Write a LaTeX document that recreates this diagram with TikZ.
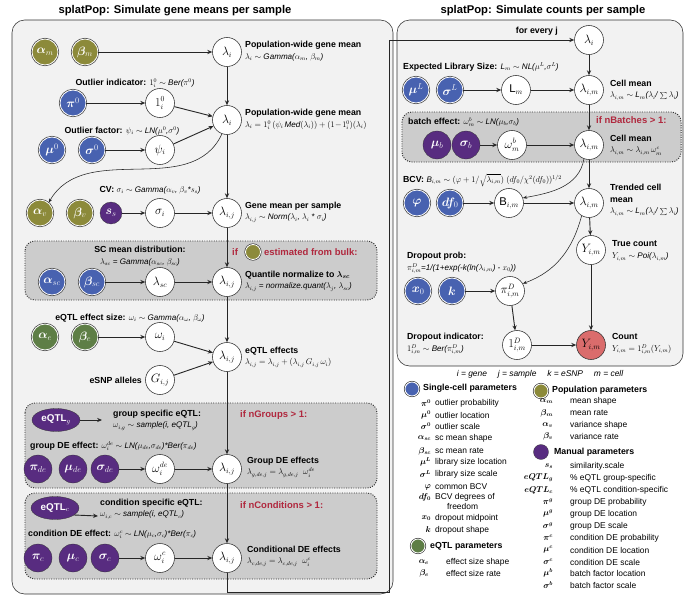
\documentclass[tikz,border=0pt]{standalone}
\usepackage{fontspec}
\setmainfont{Liberation Sans}
\usepackage{bm}
\usetikzlibrary{arrows.meta,shapes.geometric}
\definecolor{popolive}{RGB}{140,138,58}
\definecolor{scblue}{RGB}{72,98,176}
\definecolor{eqgreen}{RGB}{94,126,70}
\definecolor{manpurple}{RGB}{88,44,128}
\definecolor{cntred}{RGB}{218,108,108}
\definecolor{ifred}{RGB}{176,40,62}
\newcommand{\fm}[1]{{\fontsize{11.5}{14}\selectfont\itshape #1}}
\tikzset{
  par/.style={circle, minimum size=1.3cm, inner sep=0pt, preaction={draw=black!80, line width=3pt},
    draw=white, line width=1.2pt, text=white, font=\fontsize{18}{18}\selectfont},
  olivep/.style={par, fill=popolive},
  bluep/.style={par, fill=scblue},
  greenp/.style={par, fill=eqgreen},
  purp/.style={circle, minimum size=1.4cm, inner sep=0pt, draw=black!80, fill=manpurple,
    text=white, font=\fontsize{18}{18}\selectfont},
  purell/.style={ellipse, minimum width=2.4cm, minimum height=1.15cm, inner sep=0pt, draw=black!80,
    fill=manpurple, text=white, font=\bfseries\fontsize{14}{14}\selectfont},
  var/.style={circle, draw=black!80, thick, fill=white, minimum size=1.45cm, inner sep=0pt,
    font=\fontsize{16}{16}\selectfont},
  lab/.style={anchor=west, align=left, inner sep=0pt, font=\fontsize{12.5}{17}\selectfont},
  head/.style={font=\bfseries\fontsize{16}{18}\selectfont},
  ift/.style={anchor=west, inner sep=0pt, text=ifred, font=\bfseries\fontsize{13.5}{15}\selectfont},
  panel/.style={draw=black!80, thick, fill=black!5, rounded corners=18pt},
  optbox/.style={draw=black!80, line width=1.4pt, dotted, fill=black!20, rounded corners=14pt},
  arr/.style={-{Stealth[length=7pt,width=6pt]}, line width=1.3pt, black!85},
  leg/.style={anchor=west, inner sep=0pt, font=\fontsize{12}{13}\selectfont},
  sym/.style={anchor=east, inner sep=0pt, font=\fontsize{12}{13}\selectfont}
}
\begin{document}
\begin{tikzpicture}[x=0.05cm,y=-0.05cm]
  \useasboundingbox (0,0) rectangle (700,600);
  % panels
  \draw[panel] (12,20) rectangle (393,594);
  \draw[panel] (397,20) rectangle (683,366);
  \node[head] at (175,11) {splatPop: Simulate gene means per sample};
  \node[head] at (543,11) {splatPop: Simulate counts per sample};
  \draw[optbox] (25,241) rectangle (377,300);
  \draw[optbox] (25,403) rectangle (377,488);
  \draw[optbox] (25,493) rectangle (377,579);
  \draw[optbox] (402,112) rectangle (681,162);

  % population-wide mean
  \node[olivep] (am) at (45,52) {$\bm{\alpha}_m$};
  \node[olivep] (bm) at (85,52) {$\bm{\beta}_m$};
  \node[var] (l1) at (227,52) {$\lambda_i$};
  \node[lab] at (245,51) {\textbf{Population-wide gene mean}\\\fm{$\lambda_i \sim$ Gamma($\alpha_m$, $\beta_m$)}};
  \draw[arr] (bm) -- (l1);

  % outliers
  \node[lab, anchor=center] at (135,83) {\textbf{Outlier indicator:} \fm{$1_i^0 \sim$ Ber($\pi^0$)}};
  \node[bluep] (p0) at (73,103) {$\bm{\pi}^0$};
  \node[var] (o1) at (160,103) {$1_i^0$};
  \node[var] (l2) at (227,120) {$\lambda_i$};
  \node[lab] at (245,119) {\textbf{Population-wide gene mean}\\\fm{$\lambda_i = 1_i^0\,(\psi_i\,$Med$(\lambda_i)) + (1\!-\!1_i^0)(\lambda_i)$}};
  \node[lab, anchor=center] at (122,131) {\textbf{Outlier factor:} \fm{$\psi_i \sim$ LN($\mu^0$,$\sigma^0$)}};
  \node[bluep] (m0) at (52,150) {$\bm{\mu}^0$};
  \node[bluep] (s0) at (92,150) {$\bm{\sigma}^0$};
  \node[var] (psi) at (160,150) {$\psi_i$};
  \draw[arr] (p0) -- (o1);
  \draw[arr] (s0) -- (psi);
  \draw[arr] (o1) -- (l2);
  \draw[arr] (psi) -- (l2);
  \draw[arr] (l1) -- (l2);

  % CV
  \node[lab, anchor=center] at (150,190) {\textbf{CV:} \fm{$\sigma_i \sim$ Gamma($\alpha_v$, $\beta_v$*$s_s$)}};
  \node[olivep] (av) at (40,213) {$\bm{\alpha}_v$};
  \node[olivep] (bv) at (80,213) {$\bm{\beta}_v$};
  \node[purp, minimum size=1.1cm] (ss) at (111,213) {$\bm{s}_s$};
  \node[var] (si) at (160,213) {$\sigma_i$};
  \node[var] (l3) at (227,213) {$\lambda_{i,j}$};
  \node[lab] at (245,212) {\textbf{Gene mean per sample}\\\fm{$\lambda_{i,j} \sim$ Norm($\lambda_i$, $\lambda_i$ * $\sigma_i$)}};
  \draw[arr] (ss) -- (si);
  \draw[arr] (si) -- (l3);
  \draw[arr] (l2) -- (l3);
  \draw[-{Stealth[length=6pt]}, thick, black!85] (l2.250) to[out=-115, in=60] (av.50);

  % SC mean
  \node[ift] at (232,252) {if};
  \node[olivep, minimum size=0.75cm] (est) at (253,252) {};
  \node[ift] at (264,252) {estimated from bulk:};
  \node[lab, anchor=center, align=center] at (140,256) {\textbf{SC mean distribution:}\\\fm{$\lambda_{sc}$ = Gamma($\alpha_{sc}$, $\beta_{sc}$)}};
  \node[bluep] (asc) at (52,282) {$\bm{\alpha}_{sc}$};
  \node[bluep] (bsc) at (92,282) {$\bm{\beta}_{sc}$};
  \node[var] (lsc) at (160,282) {$\lambda_{sc}$};
  \node[var] (l4) at (227,282) {$\lambda_{i,j}$};
  \node[lab] at (245,281) {\textbf{Quantile normalize to $\bm{\lambda_{sc}}$}\\\fm{$\lambda_{i,j}$ = normalize.quant($\lambda_j$, $\lambda_{sc}$)}};
  \draw[arr] (bsc) -- (lsc);
  \draw[arr] (lsc) -- (l4);
  \draw[arr] (l3) -- (l4);

  % eQTL
  \node[lab, anchor=center] at (130,318) {\textbf{eQTL effect size:} \fm{$\omega_i \sim$ Gamma($\alpha_\omega$, $\beta_\omega$)}};
  \node[greenp] (ae) at (45,337) {$\bm{\alpha}_e$};
  \node[greenp] (be) at (85,337) {$\bm{\beta}_e$};
  \node[var] (wi) at (160,337) {$\omega_i$};
  \node[lab, anchor=east] at (142,380) {\textbf{eSNP alleles}};
  \node[var] (gij) at (160,380) {$G_{i,j}$};
  \node[var] (l5) at (227,357) {$\lambda_{i,j}$};
  \node[lab] at (245,357) {\textbf{eQTL effects}\\\fm{$\lambda_{i,j} = \lambda_{i,j} + (\lambda_{i,j}\,G_{i,j}\,\omega_i)$}};
  \draw[arr] (be) -- (wi);
  \draw[arr] (wi) -- (l5);
  \draw[arr] (gij) -- (l5);
  \draw[arr] (l4) -- (l5);

  % groups
  \node[purell] (eqg) at (56,420) {eQTL$_g$};
  \coordinate (eqgend) at (102,420);
  \draw[arr] (eqg) -- (eqgend);
  \node[lab] at (113,420) {\textbf{group specific eQTL:}\\\fm{$\omega_{i,g} \sim$ sample(i, eQTL$_g$)}};
  \node[ift] at (240,415) {if nGroups > 1:};
  \node[lab] at (30,446) {\textbf{group DE effect:} \fm{$\omega^{de}_i \sim$ LN($\mu_{de}$,$\sigma_{de}$)*Ber($\pi_{de}$)}};
  \node[purp] (pde) at (38,469) {$\bm{\pi}_{de}$};
  \node[purp] (mde) at (73,469) {$\bm{\mu}_{de}$};
  \node[purp] (sde) at (105,469) {$\bm{\sigma}_{de}$};
  \node[var] (wde) at (160,469) {$\omega^{de}_i$};
  \node[var] (l6) at (227,469) {$\lambda_{i,j}$};
  \node[lab] at (247,467) {\textbf{Group DE effects}\\\fm{$\lambda_{g,de,j} = \lambda_{g,de,j}\;\;\omega^{de}_i$}};
  \draw[arr] (sde) -- (wde);
  \draw[arr] (wde) -- (l6);
  \draw[arr] (l5) -- (l6);

  % conditions
  \node[purell] (eqc) at (55,508) {eQTL$_c$};
  \coordinate (eqcend) at (98,516);
  \draw[arr] (eqc.-20) -- (eqcend);
  \node[lab] at (100,509) {\textbf{condition specific eQTL:}\\\fm{$\omega_{i,c} \sim$ sample(i, eQTL$_c$)}};
  \node[ift] at (240,505) {if nConditions > 1:};
  \node[lab] at (28,534) {\textbf{condition DE effect:} \fm{$\omega^{c}_i \sim$ LN($\mu_c$,$\sigma_c$)*Ber($\pi_c$)}};
  \node[purp] (pc) at (38,558) {$\bm{\pi}_c$};
  \node[purp] (mc) at (73,558) {$\bm{\mu}_c$};
  \node[purp] (sc) at (105,558) {$\bm{\sigma}_c$};
  \node[var] (wc) at (160,558) {$\omega^{c}_i$};
  \node[var] (l7) at (227,558) {$\lambda_{i,j}$};
  \node[lab] at (247,556) {\textbf{Conditional DE effects}\\\fm{$\lambda_{c,de,j} = \lambda_{c,de,j}\;\;\omega^{c}_i$}};
  \draw[arr] (sc) -- (wc);
  \draw[arr] (wc) -- (l7);
  \draw[arr] (l6) -- (l7);

  % counts per sample
  \node[var] (r1) at (589,40) {$\lambda_i$};
  \coordinate (turn) at (389,592);
  \draw[arr] (l7.south) |- (turn) |- (r1.west);
  \node[lab, anchor=east] at (558,31) {\textbf{for every j}};
  \node[lab] at (403,67) {\textbf{Expected Library Size:} \fm{L$_m \sim$ NL($\mu^L$,$\sigma^L$)}};
  \node[bluep] (mL) at (416,90) {$\bm{\mu}^L$};
  \node[bluep] (sL) at (450,90) {$\bm{\sigma}^L$};
  \node[var] (Lm) at (516,90) {L$_m$};
  \node[var] (r2) at (589,90) {$\lambda_{i,m}$};
  \node[lab] at (610,90) {\textbf{Cell mean}\\\fm{$\lambda_{i,m} \sim$ L$_m$($\lambda_i$/ $\sum\lambda_i$)}};
  \draw[arr] (r1) -- (r2);
  \draw[arr] (sL) -- (Lm);
  \draw[arr] (Lm) -- (r2);

  \node[lab] at (408,122) {\textbf{batch effect:} \fm{$\omega^b_m \sim$ LN($\mu_b$,$\sigma_b$)}};
  \node[ift] at (596,120) {if nBatches > 1:};
  \node[purp] (mb) at (437,145) {$\bm{\mu}_b$};
  \node[purp] (sb) at (466,145) {$\bm{\sigma}_b$};
  \node[var] (wb) at (512,145) {$\omega^b_m$};
  \node[var] (r3) at (589,145) {$\lambda_{i,m}$};
  \node[lab] at (610,145) {\textbf{Cell mean}\\\fm{$\lambda_{i,m} \sim \lambda_{i,m}\,\omega^c_m$}};
  \draw[arr] (r2) -- (r3);
  \draw[arr] (sb) -- (wb);
  \draw[arr] (wb) -- (r3);

  \node[lab] at (403,180) {\textbf{BCV:} \fm{B$_{i,m} \sim (\varphi + 1/\sqrt{\lambda_{i,m}})\;(df_0/\chi^2(df_0))^{1/2}$}};
  \node[bluep] (phi) at (417,203) {$\bm{\varphi}$};
  \node[bluep] (df) at (450,203) {$\bm{df}_0$};
  \node[var] (B) at (509,203) {B$_{i,m}$};
  \node[var] (r4) at (589,203) {$\lambda_{i,m}$};
  \node[lab] at (610,200) {\textbf{Trended cell}\\\textbf{mean}\\\fm{$\lambda_{i,m} \sim$ L$_m$($\lambda_i$/ $\sum\lambda_i$)}};
  \draw[arr] (r3) -- (r4);
  \draw[arr] (df) -- (B);
  \draw[arr] (B) -- (r4);
  \draw[-{Stealth[length=6pt]}, thick, black!85] (r3.250) to[out=-100, in=10] (B.20);

  \node[var] (Yt) at (591,250) {$Y_{i,m}$};
  \node[lab] at (612,251) {\textbf{True count}\\\fm{$Y_{i,m} \sim$ Poi($\lambda_{i,m}$)}};
  \draw[arr] (r4) -- (Yt);
  \node[lab] at (407,263) {\textbf{Dropout prob:}\\\fm{$\pi^D_{i,m}$=1/(1+exp(-k(ln($\lambda_{i,m}$) - $x_0$))}};
  \node[bluep] (x0) at (418,291) {$\bm{x}_0$};
  \node[bluep] (kk) at (452,291) {$\bm{k}$};
  \node[var] (pD) at (510,291) {$\pi^D_{i,m}$};
  \draw[arr] (kk) -- (pD);
  \draw[-{Stealth[length=6pt]}, thick, black!85] (r4.240) to[out=-105, in=20] (pD.30);

  \node[var] (oD) at (517,345) {$1^D_{i,m}$};
  \node[var, fill=cntred] (Yc) at (591,345) {$Y_{i,m}$};
  \node[lab] at (407,344) {\textbf{Dropout indicator:}\\\fm{$1^D_{i,m} \sim$ Ber($\pi^D_{i,m}$)}};
  \node[lab] at (612,344) {\textbf{Count}\\\fm{$Y_{i,m} = 1^D_{i,m}(Y_{i,m})$}};
  \draw[arr] (pD) -- (oD);
  \draw[arr] (oD) -- (Yc);
  \draw[arr] (Yt) -- (Yc);

  % legend
  \node[font=\itshape\fontsize{12}{13}\selectfont] at (540,374) {i = gene \quad j = sample \quad k = eSNP \quad m = cell};
  \node[bluep, minimum size=0.7cm] (lsc) at (412,389) {};
  \node[lab] at (423,388) {\textbf{Single-cell parameters}};
  \foreach \s/\t/\y in {{\pi^0}/outlier probability/403, {\mu^0}/outlier location/415,
      {\sigma^0}/outlier scale/426, {\alpha_{sc}}/sc mean shape/438, {\beta_{sc}}/sc mean rate/451,
      {\mu^L}/library size location/462, {\sigma^L}/library size scale/474, {\varphi}/common BCV/487,
      {df_0}/BCV degrees of/497, {x_0}/dropout midpoint/518, {k}/dropout shape/530}
    \node[sym] at (431,\y) {$\bm{\s}$} node[leg] at (435,\y) {\t};
  \node[leg] at (447,506) {freedom};
  \node[greenp, minimum size=0.7cm] (leq) at (418,546) {};
  \node[lab] at (430,546) {\textbf{eQTL parameters}};
  \foreach \s/\t/\y in {{\alpha_e}/effect size shape/562, {\beta_e}/effect size rate/573}
    \node[sym] at (429,\y) {$\bm{\s}$} node[leg] at (446,\y) {\t};
  \node[olivep, minimum size=0.7cm] (lpo) at (541,391) {};
  \node[lab] at (552,390) {\textbf{Population parameters}};
  \foreach \s/\t/\y in {{\alpha_m}/mean shape/401, {\beta_m}/mean rate/413,
      {\alpha_v}/variance shape/425, {\beta_v}/variance rate/436}
    \node[sym] at (553,\y) {$\bm{\s}$} node[leg] at (570,\y) {\t};
  \node[purp, minimum size=0.75cm] (lma) at (541,452) {};
  \node[lab] at (554,452) {\textbf{Manual parameters}};
  \foreach \s/\t/\y in {{s_s}/similarity.scale/466, {eQTL_g}/\% eQTL group-specific/478,
      {eQTL_c}/\% eQTL condition-specific/490, {\pi^g}/group DE probability/502,
      {\mu^g}/group DE location/514, {\sigma^g}/group DE scale/526, {\pi^c}/condition DE probability/538,
      {\mu^c}/condition DE location/550, {\sigma^c}/condition DE scale/562,
      {\mu^b}/batch factor location/573, {\sigma^b}/batch factor scale/585}
    \node[sym] at (553,\y) {$\bm{\s}$} node[leg] at (570,\y) {\t};
\end{tikzpicture}
\end{document}
